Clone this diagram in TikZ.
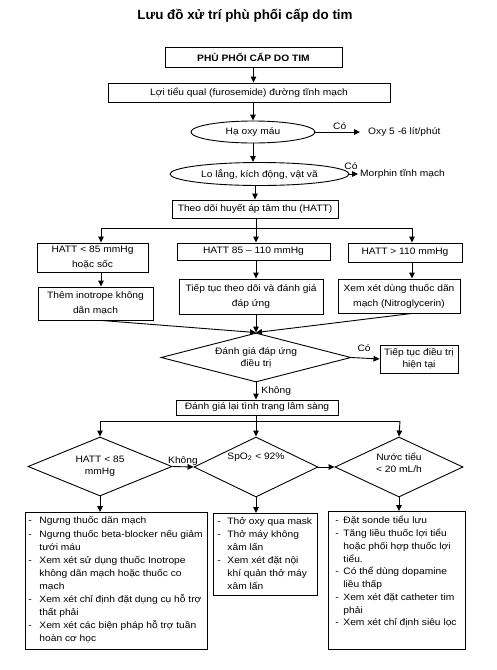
\documentclass[tikz,border=0pt]{standalone}
\usepackage{fontspec}
\setmainfont{Liberation Sans}[FakeStretch=1.1]
\newfontfamily\titlefont{Liberation Sans}
\usetikzlibrary{shapes.geometric,arrows.meta}
\newcommand{\myfs}{\fontsize{9.3}{12.5}\selectfont}
\newcommand{\rowfs}{\fontsize{9.3}{15}\selectfont}
\newcommand{\diafs}{\fontsize{9.3}{12}\selectfont}
\newlength{\dw}
\newcommand{\lbox}[7]{\parbox[c][#2][t]{#1}{\fontsize{9.3}{#3}\selectfont\setlength{\dw}{#6}\leftskip=#4\relax\rule{0pt}{#5}#7}}
\newcommand{\dsh}{\makebox[\dw][l]{-}}
\newcommand{\ind}{\hspace*{\dw}}
\begin{document}
\begin{tikzpicture}[x=1pt,y=-1pt,
  every node/.style={inner sep=0pt, font=\myfs},
  box/.style={draw, line width=0.9pt, align=center},
  ell/.style={draw, ellipse, line width=0.9pt, align=center},
  dia/.style={draw, diamond, line width=0.9pt, align=center, font=\diafs},
  ln/.style={line width=0.9pt},
  arr/.style={ln, -{Triangle[length=6pt,width=5.5pt]}}]
\useasboundingbox (0,0) rectangle (497,670);

\node[font=\titlefont\bfseries\fontsize{13.4}{16}\selectfont] (title) at (245,16) {Lưu đồ xử trí phù phối cấp do tim};

\node[box, minimum width=177, minimum height=20, font=\myfs\bfseries] (b0) at (253.5,57.5) {PHÙ PHỐI CẤP DO TIM};
\node[box, minimum width=282, minimum height=19] (b1) at (249,92.5) {Lợi tiểu qual (furosemide) đường tĩnh mạch};
\node[ell, minimum width=124, minimum height=22] (e1) at (253,132) {Hạ oxy máu};
\node[anchor=west, inner xsep=4pt] (oxy) at (364,132) {Oxy 5 -6 lít/phút};
\node[ell, minimum width=179, minimum height=23] (e2) at (259.5,174) {Lo lắng, kích động, vật vã};
\node[anchor=west, inner xsep=2pt] (mor) at (358,174) {Morphin tĩnh mạch};
\node (co2) at (351,166) {Có};
\node[box, minimum width=166, minimum height=18] (b2) at (255,209) {Theo dõi huyết áp tâm thu (HATT)};

\draw[arr] (b0.south) -- (b0.south |- b1.north);
\draw[arr] (b1.south -| e1.north) -- (e1.north);
\draw[arr] (e1.south) -- (e1.south |- e2.north);
\draw[arr] (b2.north |- e2.south) -- (b2.north);
\draw[arr, shorten >=4pt] (e1.east) -- node[above=2pt]{Có} (oxy.west);
\draw[arr] (e2.east) -- (mor.west);

% first split
\coordinate (jl) at (101,228);
\coordinate (jm) at (256,228);
\coordinate (jr) at (412,228);

\node[box, font=\rowfs, minimum width=111, minimum height=29] (l1) at (92.5,257.5) {HATT < 85 mmHg\\hoặc sốc};
\node[box, minimum width=153, minimum height=17] (m1) at (253.5,251.5) {HATT 85 – 110 mmHg};
\node[box, minimum width=114, minimum height=19] (r1) at (405,252.5) {HATT > 110 mmHg};

\node[box, font=\rowfs, minimum width=115, minimum height=33] (l2) at (95.5,303.5) {Thêm inotrope không\\dãn mạch};
\node[box, font=\rowfs, minimum width=144, minimum height=35] (m2) at (251,296.5) {Tiếp tục theo dõi và đánh giá\\đáp ứng};
\node[box, font=\rowfs, minimum width=122, minimum height=34] (r2) at (399,296) {Xem xét dùng thuốc dãn\\mạch (Nitroglycerin)};

\draw[ln] (b2.south -| jm) -- (jm);
\draw[ln] (jl) -- (jr);
\draw[arr] (jl) -- (jl |- l1.north);
\draw[arr] (jm) -- (jm |- m1.north);
\draw[arr] (jr) -- (jr |- r1.north);
\draw[arr] (l1.south -| jl) -- (l2.north -| jl);
\draw[arr] (m1.south -| jm) -- (m2.north -| jm);
\draw[arr] (r1.south -| jr) -- (r2.north -| jr);

% evaluation diamond
\node[dia, aspect=3.9, minimum width=190, minimum height=49] (d1) at (256,357.5) {Đánh giá đáp ứng\\điều trị};
\draw[arr] (l2.south -| jl) -- (d1.north);
\draw[arr] (m2.south -| jm) -- (d1.north);
\draw[arr] (r2.south -| jr) -- (d1.north);

\node[box, font=\diafs, minimum width=78, minimum height=28] (t1) at (419,359) {Tiếp tục điều trị\\hiện tại};
\draw[arr] (d1.east) -- node[above=6pt, pos=0.45]{Có} (t1.west);

\node[box, minimum width=162, minimum height=15] (r0) at (257,407.5) {Đánh giá lại tình trạng lâm sàng};
\draw[arr] (d1.south) -- node[right=5pt]{Không} (d1.south |- r0.north);

% second split
\coordinate (kl) at (100,421);
\coordinate (km) at (256,421);
\coordinate (kr) at (400,421);

\node[dia, aspect=2.44, minimum width=144, minimum height=59] (d2) at (100,466.5) {HATT < 85\\mmHg};
\node[dia, aspect=2.07, minimum width=124, minimum height=60,
      label={[yshift=10pt]center:SpO\textsubscript{2} < 92\%}] (d3) at (256,467) {};
\node[dia, aspect=2.13, minimum width=128, minimum height=60,
      label={[yshift=4pt, align=center, font=\fontsize{9.3}{11.5}\selectfont]center:{Nước tiểu\\< 20 mL/h}}] (d4) at (399,467) {};

\draw[ln] (r0.south -| km) -- (km);
\draw[ln] (kl) -- (kr);
\draw[arr] (kl) -- (d2.north);
\draw[arr] (km) -- (d3.north);
\draw[arr] (kr) -- (d4.north);
\draw[arr] (d2.east) -- node[above=1pt]{Không} (d3.west);
\draw[arr] (d3.east) -- (d4.west);

% bottom boxes
\node[box, anchor=north west] (B1) at (25,512) {\lbox{182pt}{137pt}{13.1pt}{3pt}{11.5pt}{11pt}{%
\dsh Ngưng thuốc dãn mạch\\
\dsh Ngưng thuốc beta-blocker nếu giảm\\
\ind tưới máu\\
\dsh Xem xét sử dụng thuốc Inotrope\\
\ind không dãn mạch hoặc thuốc co\\
\ind mạch\\
\dsh Xem xét chỉ định đặt dụng cụ hỗ trợ\\
\ind thất phải\\
\dsh Xem xét các biện pháp hỗ trợ tuần\\
\ind hoàn cơ học}};

\node[box, anchor=north west] (B2) at (213,513) {\lbox{104pt}{82pt}{13pt}{4pt}{11.5pt}{10pt}{%
\dsh Thở oxy qua mask\\
\dsh Thở máy không\\
\ind xâm lấn\\
\dsh Xem xét đặt nội\\
\ind khí quản thở máy\\
\ind xâm lấn}};

\node[box, anchor=north west] (B3) at (328,511) {\lbox{137pt}{138pt}{12.75pt}{7pt}{12.5pt}{8pt}{%
\dsh Đặt sonde tiểu lưu\\
\dsh Tăng liều thuốc lợi tiểu\\
\ind hoặc phối hợp thuốc lợi\\
\ind tiểu.\\
\dsh Có thể dùng dopamine\\
\ind liều thấp\\
\dsh Xem xét đặt catheter tim\\
\ind phải\\
\dsh Xem xét chỉ định siêu lọc}};

\draw[arr] (d2.south) -- (d2.south |- B1.north);
\draw[arr] (d3.south) -- (d3.south |- B2.north);
\draw[arr] (d4.south) -- (d4.south |- B3.north);
\end{tikzpicture}
\end{document}
